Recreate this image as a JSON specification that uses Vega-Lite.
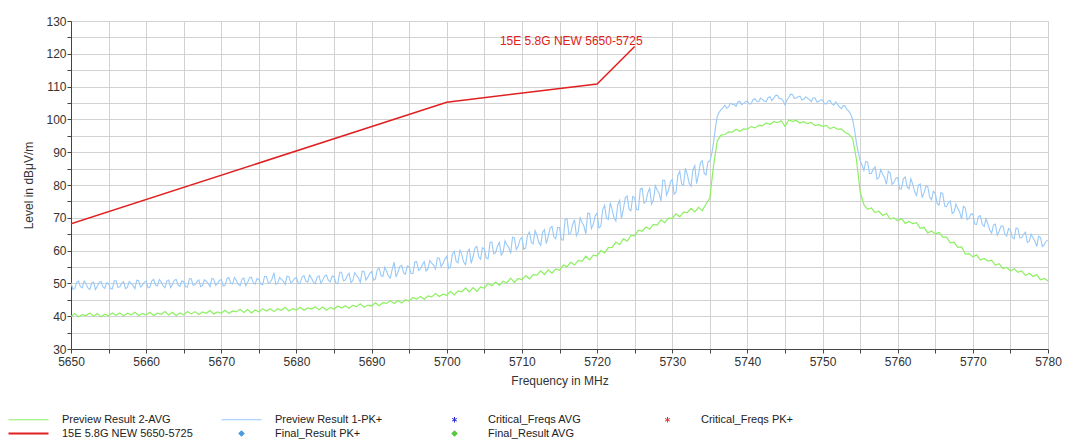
{
"$schema":"https://vega.github.io/schema/vega-lite/v6.json",
"width":977,"height":328,"autosize":"none",
"padding":{"left":71,"top":21,"right":17,"bottom":94},
"background":"white",
"config":{
 "font":"Liberation Sans",
 "view":{"stroke":"#d0d0d0"},
 "axis":{"labelFont":"Liberation Sans","titleFont":"Liberation Sans","labelFontSize":12,"titleFontSize":12,"titleFontWeight":"normal","labelColor":"#333","titleColor":"#333","gridColor":"#d2d2d2","domainColor":"#444","tickColor":"#444","tickSize":4,"labelOverlap":false}
},
"datasets":{
"trace":[
{"f":5650,"a":39.9,"p":50.2},{"f":5650.5,"a":40.8,"p":48.4},{"f":5651,"a":39.8,"p":50.7},{"f":5651.5,"a":40.5,"p":48.7},{"f":5652,"a":40.2,"p":49.8},{"f":5652.5,"a":41.0,"p":48.1},{"f":5653,"a":40.0,"p":50.4},{"f":5653.5,"a":40.8,"p":49.1},{"f":5654,"a":39.8,"p":50.6},{"f":5654.5,"a":40.6,"p":48.5},
{"f":5655,"a":40.1,"p":49.9},{"f":5655.5,"a":41.0,"p":48.3},{"f":5656,"a":40.3,"p":50.8},{"f":5656.5,"a":41.0,"p":49.0},{"f":5657,"a":40.1,"p":50.5},{"f":5657.5,"a":40.9,"p":48.8},{"f":5658,"a":40.4,"p":50.0},{"f":5658.5,"a":41.2,"p":48.4},{"f":5659,"a":40.2,"p":50.8},{"f":5659.5,"a":40.8,"p":49.4},
{"f":5660,"a":40.4,"p":50.7},{"f":5660.5,"a":41.2,"p":48.9},{"f":5661,"a":40.2,"p":51.2},{"f":5661.5,"a":40.9,"p":49.2},{"f":5662,"a":40.6,"p":50.4},{"f":5662.5,"a":41.4,"p":48.7},{"f":5663,"a":40.4,"p":51.0},{"f":5663.5,"a":41.2,"p":49.7},{"f":5664,"a":40.2,"p":51.2},{"f":5664.5,"a":41.0,"p":49.1},
{"f":5665,"a":40.4,"p":50.5},{"f":5665.5,"a":41.4,"p":48.9},{"f":5666,"a":40.7,"p":51.4},{"f":5666.5,"a":41.4,"p":49.6},{"f":5667,"a":40.5,"p":51.1},{"f":5667.5,"a":41.3,"p":49.4},{"f":5668,"a":40.9,"p":50.6},{"f":5668.5,"a":41.7,"p":49.0},{"f":5669,"a":40.7,"p":51.3},{"f":5669.5,"a":41.3,"p":50.0},
{"f":5670,"a":40.9,"p":51.2},{"f":5670.5,"a":41.8,"p":49.4},{"f":5671,"a":40.8,"p":51.8},{"f":5671.5,"a":41.6,"p":49.8},{"f":5672,"a":41.3,"p":50.9},{"f":5672.5,"a":42.1,"p":49.3},{"f":5673,"a":41.1,"p":51.6},{"f":5673.5,"a":42.0,"p":50.3},{"f":5674,"a":41.0,"p":51.9},{"f":5674.5,"a":41.9,"p":49.8},
{"f":5675,"a":41.3,"p":51.2},{"f":5675.5,"a":42.3,"p":49.6},{"f":5676,"a":41.6,"p":52.1},{"f":5676.5,"a":42.3,"p":50.3},{"f":5677,"a":41.4,"p":53.3},{"f":5677.5,"a":42.3,"p":50.1},{"f":5678,"a":41.8,"p":51.2},{"f":5678.5,"a":42.7,"p":49.7},{"f":5679,"a":41.6,"p":52.0},{"f":5679.5,"a":42.3,"p":50.6},
{"f":5680,"a":41.9,"p":51.8},{"f":5680.5,"a":42.7,"p":50.1},{"f":5681,"a":41.8,"p":52.4},{"f":5681.5,"a":42.5,"p":50.4},{"f":5682,"a":42.2,"p":51.6},{"f":5682.5,"a":42.9,"p":49.9},{"f":5683,"a":42.0,"p":52.3},{"f":5683.5,"a":42.8,"p":51.0},{"f":5684,"a":41.8,"p":52.5},{"f":5684.5,"a":42.7,"p":50.5},
{"f":5685,"a":42.1,"p":52.1},{"f":5685.5,"a":43.1,"p":49.9},{"f":5686,"a":42.5,"p":53.4},{"f":5686.5,"a":43.2,"p":51.0},{"f":5687,"a":42.4,"p":53.1},{"f":5687.5,"a":43.3,"p":50.8},{"f":5688,"a":42.9,"p":52.4},{"f":5688.5,"a":43.8,"p":50.3},{"f":5689,"a":42.7,"p":53.6},{"f":5689.5,"a":43.4,"p":51.9},
{"f":5690,"a":43.1,"p":53.6},{"f":5690.5,"a":44.1,"p":51.3},{"f":5691,"a":43.2,"p":54.7},{"f":5691.5,"a":44.1,"p":52.1},{"f":5692,"a":43.9,"p":53.7},{"f":5692.5,"a":44.7,"p":51.6},{"f":5693,"a":43.9,"p":56.5},{"f":5693.5,"a":44.8,"p":53.4},{"f":5694,"a":44.0,"p":55.5},{"f":5694.5,"a":45.0,"p":52.8},
{"f":5695,"a":44.6,"p":55.0},{"f":5695.5,"a":45.7,"p":53.0},{"f":5696,"a":45.2,"p":56.6},{"f":5696.5,"a":46.0,"p":54.4},{"f":5697,"a":45.2,"p":56.6},{"f":5697.5,"a":46.2,"p":54.5},{"f":5698,"a":45.9,"p":56.2},{"f":5698.5,"a":46.9,"p":54.3},{"f":5699,"a":46.0,"p":57.7},{"f":5699.5,"a":46.7,"p":56.1},
{"f":5700,"a":46.4,"p":58.3},{"f":5700.5,"a":47.6,"p":55.1},{"f":5701,"a":46.5,"p":59.8},{"f":5701.5,"a":47.7,"p":56.3},{"f":5702,"a":47.4,"p":58.7},{"f":5702.5,"a":48.6,"p":55.7},{"f":5703,"a":47.4,"p":60.4},{"f":5703.5,"a":48.7,"p":58.2},{"f":5704,"a":47.6,"p":61.3},{"f":5704.5,"a":48.9,"p":57.4},
{"f":5705,"a":48.5,"p":60.5},{"f":5705.5,"a":50.0,"p":57.5},{"f":5706,"a":49.3,"p":62.6},{"f":5706.5,"a":50.4,"p":59.4},{"f":5707,"a":49.4,"p":62.5},{"f":5707.5,"a":50.7,"p":59.5},{"f":5708,"a":50.2,"p":61.8},{"f":5708.5,"a":51.6,"p":59.1},{"f":5709,"a":50.3,"p":63.9},{"f":5709.5,"a":51.5,"p":61.4},
{"f":5710,"a":51.1,"p":64.0},{"f":5710.5,"a":52.4,"p":60.8},{"f":5711,"a":51.4,"p":65.6},{"f":5711.5,"a":52.7,"p":62.1},{"f":5712,"a":52.5,"p":64.6},{"f":5712.5,"a":53.8,"p":61.6},{"f":5713,"a":52.7,"p":66.4},{"f":5713.5,"a":54.1,"p":64.3},{"f":5714,"a":53.1,"p":67.4},{"f":5714.5,"a":54.4,"p":63.6},
{"f":5715,"a":54.0,"p":67.0},{"f":5715.5,"a":55.6,"p":63.2},{"f":5716,"a":55.1,"p":69.7},{"f":5716.5,"a":56.4,"p":65.5},{"f":5717,"a":55.6,"p":69.4},{"f":5717.5,"a":57.0,"p":65.7},{"f":5718,"a":56.7,"p":68.6},{"f":5718.5,"a":58.3,"p":65.1},{"f":5719,"a":57.2,"p":71.3},{"f":5719.5,"a":58.6,"p":68.1},
{"f":5720,"a":58.4,"p":71.4},{"f":5720.5,"a":60.0,"p":67.4},{"f":5721,"a":59.3,"p":73.8},{"f":5721.5,"a":60.9,"p":69.5},{"f":5722,"a":61.0,"p":72.6},{"f":5722.5,"a":62.6,"p":69.0},{"f":5723,"a":61.8,"p":75.3},{"f":5723.5,"a":63.6,"p":72.6},{"f":5724,"a":62.9,"p":76.7},{"f":5724.5,"a":64.6,"p":72.1},
{"f":5725,"a":64.5,"p":76.1},{"f":5725.5,"a":66.2,"p":72.4},{"f":5726,"a":65.9,"p":79.0},{"f":5726.5,"a":67.2,"p":75.0},{"f":5727,"a":66.5,"p":79.0},{"f":5727.5,"a":68.0,"p":75.4},{"f":5728,"a":67.8,"p":78.4},{"f":5728.5,"a":69.4,"p":75.1},{"f":5729,"a":68.5,"p":81.4},{"f":5729.5,"a":69.9,"p":78.3},
{"f":5730,"a":69.8,"p":81.7},{"f":5730.5,"a":71.2,"p":77.8},{"f":5731,"a":70.3,"p":84.2},{"f":5731.5,"a":71.7,"p":80.0},{"f":5732,"a":71.6,"p":83.2},{"f":5732.5,"a":72.9,"p":79.6},{"f":5733,"a":71.8,"p":85.9},{"f":5733.5,"a":73.2,"p":83.3},{"f":5734,"a":72.2,"p":87.4},{"f":5734.5,"a":74.2,"p":83.1},
{"f":5735,"a":76.0,"p":87.3},{"f":5735.5,"a":86.0,"p":93.0},{"f":5736,"a":93.5,"p":101.0},{"f":5736.5,"a":95.2,"p":103.0},{"f":5737,"a":95.4,"p":104.3},{"f":5737.5,"a":96.2,"p":103.8},{"f":5738,"a":96.1,"p":104.6},{"f":5738.5,"a":97.0,"p":104.0},{"f":5739,"a":96.4,"p":105.5},{"f":5739.5,"a":97.1,"p":104.9},
{"f":5740,"a":97.0,"p":105.6},{"f":5740.5,"a":97.8,"p":104.8},{"f":5741,"a":97.4,"p":106.3},{"f":5741.5,"a":98.2,"p":105.4},{"f":5742,"a":98.1,"p":106.1},{"f":5742.5,"a":98.9,"p":105.4},{"f":5743,"a":98.5,"p":106.9},{"f":5743.5,"a":99.3,"p":106.5},{"f":5744,"a":99.0,"p":107.4},{"f":5744.5,"a":99.6,"p":106.3},
{"f":5745,"a":97.9,"p":104.5},{"f":5745.5,"a":99.8,"p":106.7},{"f":5746,"a":99.4,"p":107.6},{"f":5746.5,"a":99.7,"p":106.5},{"f":5747,"a":98.9,"p":107.1},{"f":5747.5,"a":99.3,"p":106.1},{"f":5748,"a":98.7,"p":106.4},{"f":5748.5,"a":99.1,"p":105.4},{"f":5749,"a":98.1,"p":106.5},{"f":5749.5,"a":98.4,"p":105.5},
{"f":5750,"a":97.9,"p":105.9},{"f":5750.5,"a":98.2,"p":104.7},{"f":5751,"a":97.2,"p":105.7},{"f":5751.5,"a":97.6,"p":104.3},{"f":5752,"a":97.0,"p":104.6},{"f":5752.5,"a":97.1,"p":103.3},{"f":5753,"a":96.0,"p":104.1},{"f":5753.5,"a":95.5,"p":102.5},{"f":5754,"a":94.2,"p":100.0},{"f":5754.5,"a":88.0,"p":93.0},
{"f":5755,"a":78.0,"p":87.5},{"f":5755.5,"a":74.0,"p":84.5},{"f":5756,"a":72.6,"p":87.0},{"f":5756.5,"a":73.0,"p":83.5},{"f":5757,"a":71.6,"p":85.5},{"f":5757.5,"a":72.0,"p":82.2},{"f":5758,"a":70.7,"p":83.3},{"f":5758.5,"a":71.3,"p":80.2},{"f":5759,"a":69.6,"p":83.7},{"f":5759.5,"a":70.0,"p":80.8},
{"f":5760,"a":69.1,"p":82.3},{"f":5760.5,"a":69.8,"p":78.8},{"f":5761,"a":68.3,"p":82.5},{"f":5761.5,"a":68.9,"p":78.8},{"f":5762,"a":68.2,"p":80.2},{"f":5762.5,"a":68.5,"p":76.8},{"f":5763,"a":66.8,"p":80.3},{"f":5763.5,"a":67.1,"p":77.6},{"f":5764,"a":65.4,"p":79.5},{"f":5764.5,"a":66.0,"p":75.5},
{"f":5765,"a":65.1,"p":77.4},{"f":5765.5,"a":65.5,"p":73.8},{"f":5766,"a":64.1,"p":77.3},{"f":5766.5,"a":64.1,"p":73.4},{"f":5767,"a":62.4,"p":75.1},{"f":5767.5,"a":62.6,"p":71.7},{"f":5768,"a":61.0,"p":72.8},{"f":5768.5,"a":61.1,"p":69.6},{"f":5769,"a":58.9,"p":73.0},{"f":5769.5,"a":59.1,"p":69.9},
{"f":5770,"a":58.1,"p":71.1},{"f":5770.5,"a":58.7,"p":68.0},{"f":5771,"a":57.1,"p":70.6},{"f":5771.5,"a":57.6,"p":67.3},{"f":5772,"a":56.8,"p":68.1},{"f":5772.5,"a":57.1,"p":65.3},{"f":5773,"a":55.5,"p":68.1},{"f":5773.5,"a":56.0,"p":65.9},{"f":5774,"a":54.5,"p":67.5},{"f":5774.5,"a":54.9,"p":64.4},
{"f":5775,"a":53.8,"p":66.2},{"f":5775.5,"a":54.5,"p":63.6},{"f":5776,"a":53.4,"p":66.7},{"f":5776.5,"a":53.8,"p":63.9},{"f":5777,"a":52.4,"p":65.6},{"f":5777.5,"a":53.1,"p":62.8},{"f":5778,"a":52.1,"p":63.9},{"f":5778.5,"a":52.7,"p":61.2},{"f":5779,"a":51.1,"p":64.0},{"f":5779.5,"a":51.5,"p":61.8},
{"f":5780,"a":50.7,"p":63.1},
{"f":5650.25,"p":48.2},{"f":5650.75,"p":50.3},{"f":5651.25,"p":49.0},{"f":5651.75,"p":50.7},{"f":5652.25,"p":48.6},{"f":5652.75,"p":50.1},{"f":5653.25,"p":48.1},{"f":5653.75,"p":50.4},{"f":5654.25,"p":48.9},{"f":5654.75,"p":50.2},
{"f":5655.25,"p":48.4},{"f":5655.75,"p":50.8},{"f":5656.25,"p":48.8},{"f":5656.75,"p":50.0},{"f":5657.25,"p":48.4},{"f":5657.75,"p":50.6},{"f":5658.25,"p":49.4},{"f":5658.75,"p":51.0},{"f":5659.25,"p":48.9},{"f":5659.75,"p":50.4},
{"f":5660.25,"p":48.7},{"f":5660.75,"p":50.8},{"f":5661.25,"p":49.5},{"f":5661.75,"p":51.2},{"f":5662.25,"p":49.2},{"f":5662.75,"p":50.7},{"f":5663.25,"p":48.7},{"f":5663.75,"p":51.0},{"f":5664.25,"p":49.5},{"f":5664.75,"p":50.8},
{"f":5665.25,"p":49.0},{"f":5665.75,"p":51.4},{"f":5666.25,"p":49.4},{"f":5666.75,"p":50.5},{"f":5667.25,"p":49.0},{"f":5667.75,"p":51.1},{"f":5668.25,"p":50.0},{"f":5668.75,"p":51.5},{"f":5669.25,"p":49.4},{"f":5669.75,"p":50.9},
{"f":5670.25,"p":49.2},{"f":5670.75,"p":51.4},{"f":5671.25,"p":50.1},{"f":5671.75,"p":51.8},{"f":5672.25,"p":49.8},{"f":5672.75,"p":51.3},{"f":5673.25,"p":49.3},{"f":5673.75,"p":51.7},{"f":5674.25,"p":50.2},{"f":5674.75,"p":51.5},
{"f":5675.25,"p":49.8},{"f":5675.75,"p":52.1},{"f":5676.25,"p":50.1},{"f":5676.75,"p":51.3},{"f":5677.25,"p":49.7},{"f":5677.75,"p":51.8},{"f":5678.25,"p":50.7},{"f":5678.75,"p":52.2},{"f":5679.25,"p":50.1},{"f":5679.75,"p":51.5},
{"f":5680.25,"p":49.9},{"f":5680.75,"p":52.0},{"f":5681.25,"p":50.7},{"f":5681.75,"p":52.5},{"f":5682.25,"p":50.4},{"f":5682.75,"p":51.9},{"f":5683.25,"p":50.0},{"f":5683.75,"p":52.3},{"f":5684.25,"p":50.9},{"f":5684.75,"p":52.2},
{"f":5685.25,"p":50.1},{"f":5685.75,"p":53.4},{"f":5686.25,"p":50.8},{"f":5686.75,"p":52.3},{"f":5687.25,"p":50.3},{"f":5687.75,"p":53.3},{"f":5688.25,"p":51.7},{"f":5688.75,"p":53.8},{"f":5689.25,"p":51.0},{"f":5689.75,"p":53.1},
{"f":5690.25,"p":51.0},{"f":5690.75,"p":54.1},{"f":5691.25,"p":52.4},{"f":5691.75,"p":54.9},{"f":5692.25,"p":52.2},{"f":5692.75,"p":54.4},{"f":5693.25,"p":51.9},{"f":5693.75,"p":55.2},{"f":5694.25,"p":53.3},{"f":5694.75,"p":55.3},
{"f":5695.25,"p":53.0},{"f":5695.75,"p":56.5},{"f":5696.25,"p":54.0},{"f":5696.75,"p":55.7},{"f":5697.25,"p":53.8},{"f":5697.75,"p":57.0},{"f":5698.25,"p":55.5},{"f":5698.75,"p":57.8},{"f":5699.25,"p":55.1},{"f":5699.75,"p":57.4},
{"f":5700.25,"p":54.6},{"f":5700.75,"p":59.0},{"f":5701.25,"p":56.7},{"f":5701.75,"p":60.3},{"f":5702.25,"p":56.5},{"f":5702.75,"p":59.6},{"f":5703.25,"p":56.1},{"f":5703.75,"p":60.8},{"f":5704.25,"p":58.1},{"f":5704.75,"p":60.9},
{"f":5705.25,"p":57.7},{"f":5705.75,"p":62.5},{"f":5706.25,"p":59.0},{"f":5706.75,"p":61.4},{"f":5707.25,"p":58.6},{"f":5707.75,"p":63.0},{"f":5708.25,"p":61.0},{"f":5708.75,"p":64.1},{"f":5709.25,"p":60.3},{"f":5709.75,"p":63.4},
{"f":5710.25,"p":60.4},{"f":5710.75,"p":64.8},{"f":5711.25,"p":62.5},{"f":5711.75,"p":66.1},{"f":5712.25,"p":62.5},{"f":5712.75,"p":65.6},{"f":5713.25,"p":62.1},{"f":5713.75,"p":66.9},{"f":5714.25,"p":64.2},{"f":5714.75,"p":67.1},
{"f":5715.25,"p":63.3},{"f":5715.75,"p":69.5},{"f":5716.25,"p":65.0},{"f":5716.75,"p":68.0},{"f":5717.25,"p":64.5},{"f":5717.75,"p":70.0},{"f":5718.25,"p":67.5},{"f":5718.75,"p":71.4},{"f":5719.25,"p":66.7},{"f":5719.75,"p":70.6},
{"f":5720.25,"p":66.9},{"f":5720.75,"p":72.5},{"f":5721.25,"p":69.9},{"f":5721.75,"p":74.6},{"f":5722.25,"p":70.0},{"f":5722.75,"p":74.0},{"f":5723.25,"p":69.8},{"f":5723.75,"p":76.1},{"f":5724.25,"p":72.7},{"f":5724.75,"p":76.5},
{"f":5725.25,"p":72.5},{"f":5725.75,"p":78.8},{"f":5726.25,"p":74.5},{"f":5726.75,"p":77.6},{"f":5727.25,"p":74.2},{"f":5727.75,"p":79.8},{"f":5728.25,"p":77.5},{"f":5728.75,"p":81.5},{"f":5729.25,"p":76.9},{"f":5729.75,"p":80.9},
{"f":5730.25,"p":77.2},{"f":5730.75,"p":82.9},{"f":5731.25,"p":80.3},{"f":5731.75,"p":85.1},{"f":5732.25,"p":80.6},{"f":5732.75,"p":84.6},{"f":5733.25,"p":80.4},{"f":5733.75,"p":86.8},{"f":5734.25,"p":83.6},{"f":5734.75,"p":87.0},
{"f":5735.25,"p":89.5},{"f":5735.75,"p":97.5},{"f":5736.25,"p":102.2},{"f":5736.75,"p":103.5},{"f":5737.25,"p":103.4},{"f":5737.75,"p":104.9},{"f":5738.25,"p":104.5},{"f":5738.75,"p":105.4},{"f":5739.25,"p":104.5},{"f":5739.75,"p":105.4},
{"f":5740.25,"p":104.7},{"f":5740.75,"p":106.0},{"f":5741.25,"p":105.5},{"f":5741.75,"p":106.5},{"f":5742.25,"p":105.6},{"f":5742.75,"p":106.6},{"f":5743.25,"p":105.7},{"f":5743.75,"p":107.3},{"f":5744.25,"p":106.4},{"f":5744.75,"p":105.7},
{"f":5745.25,"p":105.8},{"f":5745.75,"p":107.7},{"f":5746.25,"p":106.4},{"f":5746.75,"p":106.9},{"f":5747.25,"p":105.9},{"f":5747.75,"p":106.9},{"f":5748.25,"p":106.1},{"f":5748.75,"p":106.6},{"f":5749.25,"p":105.3},{"f":5749.75,"p":105.9},
{"f":5750.25,"p":104.8},{"f":5750.75,"p":105.6},{"f":5751.25,"p":104.7},{"f":5751.75,"p":105.3},{"f":5752.25,"p":103.8},{"f":5752.75,"p":104.2},{"f":5753.25,"p":103.0},{"f":5753.75,"p":101.5},{"f":5754.25,"p":97.0},{"f":5754.75,"p":90.0},
{"f":5755.25,"p":86.0},{"f":5755.75,"p":87.2},{"f":5756.25,"p":83.5},{"f":5756.75,"p":84.9},{"f":5757.25,"p":81.8},{"f":5757.75,"p":84.7},{"f":5758.25,"p":82.3},{"f":5758.75,"p":84.2},{"f":5759.25,"p":80.2},{"f":5759.75,"p":82.1},
{"f":5760.25,"p":78.8},{"f":5760.75,"p":81.9},{"f":5761.25,"p":79.4},{"f":5761.75,"p":81.9},{"f":5762.25,"p":78.0},{"f":5762.75,"p":79.9},{"f":5763.25,"p":76.1},{"f":5763.75,"p":79.6},{"f":5764.25,"p":76.4},{"f":5764.75,"p":78.1},
{"f":5765.25,"p":74.4},{"f":5765.75,"p":77.7},{"f":5766.25,"p":73.6},{"f":5766.75,"p":74.7},{"f":5767.25,"p":71.3},{"f":5767.75,"p":74.2},{"f":5768.25,"p":71.7},{"f":5768.75,"p":73.5},{"f":5769.25,"p":69.4},{"f":5769.75,"p":71.2},
{"f":5770.25,"p":68.1},{"f":5770.75,"p":70.4},{"f":5771.25,"p":68.0},{"f":5771.75,"p":69.7},{"f":5772.25,"p":66.3},{"f":5772.75,"p":67.8},{"f":5773.25,"p":64.7},{"f":5773.75,"p":67.5},{"f":5774.25,"p":65.1},{"f":5774.75,"p":66.7},
{"f":5775.25,"p":64.0},{"f":5775.75,"p":66.9},{"f":5776.25,"p":63.9},{"f":5776.75,"p":65.0},{"f":5777.25,"p":62.5},{"f":5777.75,"p":65.0},{"f":5778.25,"p":62.9},{"f":5778.75,"p":64.4},{"f":5779.25,"p":61.2},{"f":5779.75,"p":62.9}
],
"limit":[{"f":5650,"v":68.2},{"f":5700,"v":105.2},{"f":5720,"v":110.8},{"f":5725,"v":122.2}]
},
"encoding":{
 "x":{"field":"f","type":"quantitative","scale":{"domain":[5650,5780],"nice":false,"zero":false},
  "axis":{"tickCount":27,"format":"d","labelExpr":"datum.value % 10 == 0 ? datum.label : ''","title":"Frequency in MHz","labelPadding":3,"titlePadding":8,"labelFlush":false,"labelOverlap":false}}
},
"layer":[
{"data":{"name":"trace"},"mark":{"type":"line","strokeWidth":1.1,"clip":true,"invalid":"filter"},
 "encoding":{
  "y":{"field":"p","type":"quantitative","scale":{"domain":[30,130],"nice":false,"zero":false},
   "axis":{"tickCount":21,"format":"d","labelExpr":"datum.value % 10 == 0 ? datum.label : ''","title":"Level in dBμV/m","labelPadding":1,"titlePadding":10,"labelOverlap":false}},
  "color":{"datum":"Preview Result 1-PK+","type":"nominal",
   "scale":{"domain":["Preview Result 2-AVG","15E 5.8G NEW 5650-5725","Preview Result 1-PK+","Final_Result PK+","Critical_Freqs AVG","Final_Result AVG","Critical_Freqs PK+"],
            "range":["#8cf060","#e02020","#98c9f8","#4a9be0","#2a2ad8","#58c83e","#e23030"]},
   "legend":{"title":null,"orient":"none","legendX":-48,"legendY":393,"columns":4,"gridAlign":"all","columnPadding":26,"rowPadding":2,
     "labelFont":"Liberation Sans","labelFontSize":11,"labelColor":"#222","symbolSize":100,"labelOffset":28,
     "encode":{"symbols":{"update":{
       "shape":{"signal":"indexof(['Preview Result 2-AVG','Preview Result 1-PK+','15E 5.8G NEW 5650-5725'], datum.value) >= 0 ? 'M-4,0L4,0' : (indexof(['Critical_Freqs AVG','Critical_Freqs PK+'], datum.value) >= 0 ? 'M0,-1L0,1M-0.87,-0.5L0.87,0.5M-0.87,0.5L0.87,-0.5' : 'diamond')"},
       "size":{"signal":"indexof(['Preview Result 2-AVG','Preview Result 1-PK+','15E 5.8G NEW 5650-5725'], datum.value) >= 0 ? 100 : 30"},
       "fill":{"signal":"indexof(['Final_Result PK+','Final_Result AVG'], datum.value) >= 0 ? scale('color', datum.value) : 'transparent'"},
       "stroke":{"signal":"scale('color', datum.value)"},
       "strokeWidth":{"signal":"datum.value == '15E 5.8G NEW 5650-5725' ? 2 : 1"},
       "opacity":{"value":1}
     }}}}}
 }},
{"data":{"name":"trace"},"mark":{"type":"line","strokeWidth":1.2,"clip":true,"invalid":"filter"},
 "encoding":{"y":{"field":"a","type":"quantitative","scale":{"domain":[30,130],"nice":false,"zero":false},
   "axis":{"tickCount":21,"format":"d","labelExpr":"datum.value % 10 == 0 ? datum.label : ''","title":"Level in dBμV/m","labelPadding":1,"titlePadding":10,"labelOverlap":false}},
   "color":{"datum":"Preview Result 2-AVG","type":"nominal"}}},
{"data":{"name":"limit"},"mark":{"type":"line","strokeWidth":1.5,"clip":true},
 "encoding":{"y":{"field":"v","type":"quantitative","scale":{"domain":[30,130],"nice":false,"zero":false},
   "axis":{"tickCount":21,"format":"d","labelExpr":"datum.value % 10 == 0 ? datum.label : ''","title":"Level in dBμV/m","labelPadding":1,"titlePadding":10,"labelOverlap":false}},
   "color":{"datum":"15E 5.8G NEW 5650-5725","type":"nominal"}}},
{"data":{"name":"limit"},"transform":[{"filter":"datum.f == 5725"}],
 "mark":{"type":"text","align":"right","baseline":"alphabetic","dx":8,"dy":-2,"fontSize":12,"color":"#e02020","font":"Liberation Sans"},
 "encoding":{"y":{"field":"v","type":"quantitative","scale":{"domain":[30,130],"nice":false,"zero":false},
   "axis":{"tickCount":21,"format":"d","labelExpr":"datum.value % 10 == 0 ? datum.label : ''","title":"Level in dBμV/m","labelPadding":1,"titlePadding":10,"labelOverlap":false}},
   "text":{"value":"15E 5.8G NEW 5650-5725"}}}
]
}
